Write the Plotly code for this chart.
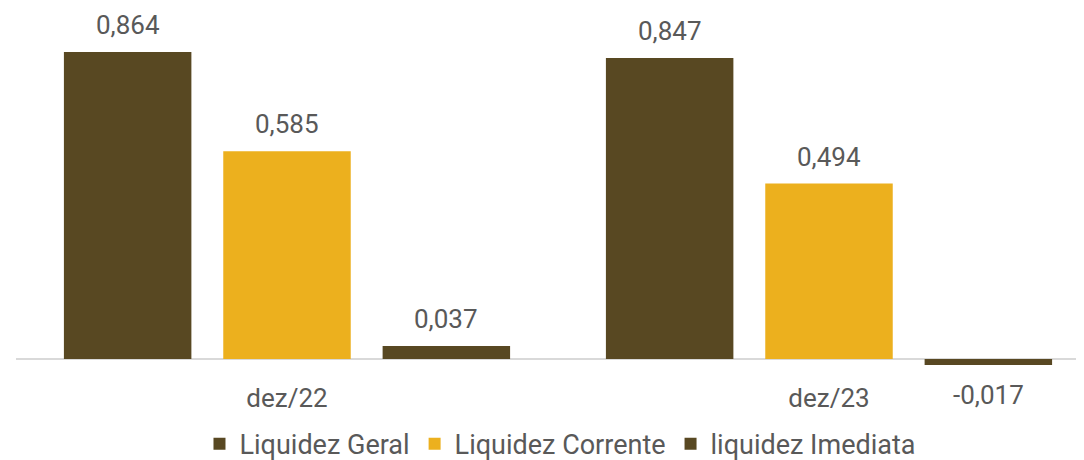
import plotly.graph_objects as go

periods = ['dez/22', 'dez/23']
liquidez_geral = [0.864, 0.847]
liquidez_corrente = [0.585, 0.494]
liquidez_imediata = [0.037, -0.017]

series_names = ['Liquidez Geral', 'Liquidez Corrente', 'liquidez Imediata']
BROWN = '#584822'
GOLD = '#ECB01E'
TEXT = '#595959'
FS = 26

# the page adds an 8px body margin, so the figure is 8px smaller
W, H = 1076, 452
LEFT = 8
CAT_PX = 542                      # one category in pixels (chart runs past the right edge)
BARGAP = 0.118
SLOT_PX = CAT_PX * (1 - BARGAP) / 3
X_SPAN = (W - LEFT) / CAT_PX

fig = go.Figure()

all_series = [liquidez_geral, liquidez_corrente, liquidez_imediata]
for i, (name, vals, color) in enumerate(zip(series_names, all_series,
                                            [BROWN, GOLD, BROWN])):
    fig.add_trace(go.Bar(
        x=periods,
        y=vals,
        name=name,
        marker=dict(color=color, line=dict(width=0)),
        cliponaxis=False,
    ))
    # data labels, placed a little away from the bar end like Excel does
    for p, v in zip(periods, vals):
        fig.add_annotation(
            x=p, y=v, xref='x', yref='y',
            xshift=(i - 1) * SLOT_PX,
            yshift=27 if v >= 0 else -30,
            text=f'{v:.3f}'.replace('.', ','),
            showarrow=False, yanchor='middle',
            font=dict(size=FS, color=TEXT),
        )

fig.update_layout(
    width=W,
    height=H,
    margin=dict(l=LEFT, r=0, t=0, b=80),
    paper_bgcolor='white',
    plot_bgcolor='white',
    separators=',.',
    font=dict(family='Roboto', size=FS, color=TEXT),
    barmode='group',
    bargap=BARGAP,
    bargroupgap=0.2,
    legend=dict(
        orientation='h',
        x=0.513, xanchor='center', xref='container',
        y=0.035, yanchor='middle', yref='container',
        font=dict(size=27, color=TEXT),
        itemwidth=30,
        traceorder='normal',
    ),
    xaxis=dict(showline=False, showgrid=False, ticks='',
               range=[-0.5, -0.5 + X_SPAN],
               tickfont=dict(size=FS, color=TEXT)),
    yaxis=dict(range=[-0.059, 0.988], showgrid=False,
               showticklabels=False, zeroline=True,
               zerolinecolor='#d9d9d9', zerolinewidth=2),
)

fig.write_html('out.html')
